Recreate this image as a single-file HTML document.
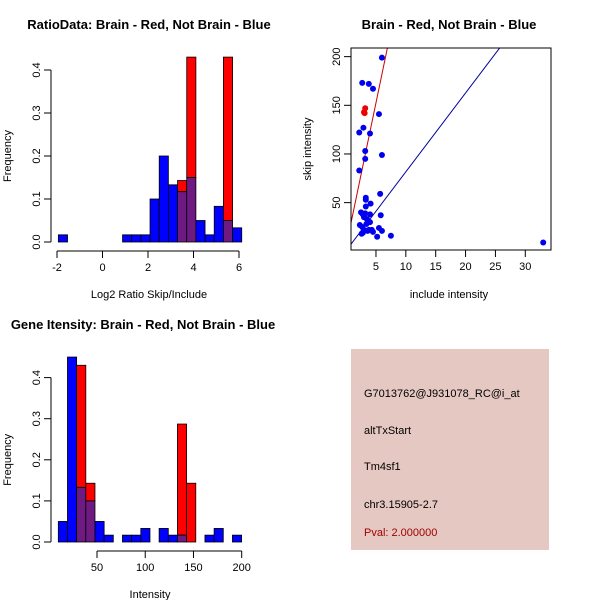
<!DOCTYPE html>
<html><head><meta charset="utf-8"><style>
html,body{margin:0;padding:0;background:#fff}
svg{display:block;font-family:"Liberation Sans",sans-serif}
</style></head><body>
<svg id="svg" width="600" height="600" viewBox="0 0 600 600" xmlns="http://www.w3.org/2000/svg">
<rect x="0" y="0" width="600" height="600" fill="#fff"/>
<g>
<rect x="351" y="349" width="198" height="201" fill="#e5c8c1"/>
<text x="364" y="397" font-size="11" fill="#000">G7013762@J931078_RC@i_at</text>
<text x="364" y="434" font-size="11" fill="#000">altTxStart</text>
<text x="364" y="470" font-size="11" fill="#000">Tm4sf1</text>
<text x="364" y="508" font-size="11" fill="#000">chr3.15905-2.7</text>
<text x="364" y="536" font-size="11" fill="#a00000">Pval: 2.000000</text>
</g>
</svg>
<script>
// ---- Histogram 1: log2 ratio ----
const h1Start = -1.94, h1Width = 0.403;
const h1Blue = [0.0167,0,0,0,0,0,0,0.0167,0.0167,0.0167,0.1,0.2,0.133,0.117,0.15,0.05,0.0167,0.083,0.05,0.033];
const h1Red  = [0,0,0,0,0,0,0,0,0,0,0,0,0,0.143,0.43,0,0,0,0.43,0];
const h1XTicks = [-2,0,2,4,6];
const h1YTicks = [0,0.1,0.2,0.3,0.4];
// ---- Histogram 2: intensity ----
const h2Start = 9.9, h2Width = 9.5;
const h2Blue = [0.05,0.45,0.133,0.1,0.05,0.0167,0,0.0167,0.0167,0.033,0,0.033,0.0167,0.0167,0,0,0.0167,0.033,0,0.0167];
const h2Red  = [0,0,0.43,0.143,0,0,0,0,0,0,0,0,0,0.287,0.143,0,0,0,0,0];
const h2XTicks = [50,100,150,200];
const h2YTicks = [0,0.1,0.2,0.3,0.4];
// ---- Scatter ----
const blueX = [6.0,2.7,3.8,4.5,5.5,2.9,2.2,4.0,3.2,3.2,6.0,2.2,5.7,3.3,3.3,4.1,3.3,2.5,2.8,3.2,4.0,5.8,3.0,3.5,4.0,2.3,2.7,3.4,3.0,3.8,4.3,4.5,5.5,6.0,5.2,7.5,2.6,2.8,3.6,33];
const blueY = [199,173,172,167,141,127,122,121,103,95,99,83,59,55,53,49,46,40,38,39,38,37,35,33,30,27,25,28,22,22,22,20,24,21,15,16,18,19,21,9];
const redX = [3.2,3.1,3.0];
const redY = [147,142,143];
const redLine = [5, 29.5];   // intercept, slope
const blueLine = [0.66, 8.1];
const scXTicks = [5,10,15,20,25,30];
const scYTicks = [50,100,150,200];

const NS = "http://www.w3.org/2000/svg";
const svg = document.getElementById('svg');
function mk(tag, attrs, parent){
  const e = document.createElementNS(NS, tag);
  for (const k in attrs) e.setAttribute(k, attrs[k]);
  (parent||svg).appendChild(e);
  return e;
}
function txt(x,y,s,size,opts,parent){
  const t = mk('text', Object.assign({x:x,y:y,'font-size':size,'text-anchor':'middle',fill:'#000'},opts||{}), parent);
  t.textContent = s;
  return t;
}

function histogram(name, start, width, blue, red, xTicks, yTicks, xs, ys, axisY, title, titleX, titleY, xlabel, xlabelX, xlabelY){
  const g = mk('g', {});
  
  
  const y0 = ys(0);
  for (let i=0;i<blue.length;i++){
    const x1 = xs(start+i*width), x2 = xs(start+(i+1)*width);
    const b = blue[i], r = red[i];
    const ov = Math.min(b,r);
    if (b>ov){
      const e = mk('rect',{x:x1,y:ys(b),width:x2-x1,height:ys(ov)-ys(b),fill:'#0000ff',stroke:'#000','stroke-width':0.8},g);
      
      
    }
    if (r>ov){
      const e = mk('rect',{x:x1,y:ys(r),width:x2-x1,height:ys(ov)-ys(r),fill:'#ff0000',stroke:'#000','stroke-width':0.8},g);
      
      
    }
    if (ov>0){
      const e = mk('rect',{x:x1,y:ys(ov),width:x2-x1,height:y0-ys(ov),fill:'#6e1a82',stroke:'#000','stroke-width':0.8},g);
      
      
    }
  }
  const ya = mk('g',{},g);
  
  
  mk('line',{x1:51,x2:51,y1:ys(yTicks[0]),y2:ys(yTicks[yTicks.length-1]),stroke:'#000'},ya);
  yTicks.forEach(v=>{
    mk('line',{x1:44,x2:51,y1:ys(v),y2:ys(v),stroke:'#000'},ya);
    txt(36,ys(v)+4,v.toFixed(1),11,{transform:`rotate(-90 36 ${ys(v)})`},ya);
  });
  const xa = mk('g',{},g);
  
  
  mk('line',{x1:xs(xTicks[0]),x2:xs(xTicks[xTicks.length-1]),y1:axisY,y2:axisY,stroke:'#000'},xa);
  xTicks.forEach(v=>{
    mk('line',{x1:xs(v),x2:xs(v),y1:axisY,y2:axisY+7,stroke:'#000'},xa);
    txt(xs(v),axisY+20,String(v),11,{},xa);
  });
  const t = txt(titleX, titleY, title, 13, {'font-weight':'bold'}, g);
  
  
  const xl = txt(xlabelX, xlabelY, xlabel, 11, {}, g);
  
  
  const yl = txt(11, ys(0.2), 'Frequency', 11, {transform:`rotate(-90 11 ${ys(0.2)})`}, g);
  
  
  return g;
}

const h1xs = v => 57 + (v+2)*22.75;
const h1ys = v => 242 - v*430;
histogram('ratio-histogram', h1Start, h1Width, h1Blue, h1Red, h1XTicks, h1YTicks, h1xs, h1ys, 251,
  'RatioData: Brain - Red, Not Brain - Blue', 149, 29, 'Log2 Ratio Skip/Include', 149, 298);
const h2xs = v => 97 + (v-50)*0.9647;
const h2ys = v => 542 - v*411;
histogram('intensity-histogram', h2Start, h2Width, h2Blue, h2Red, h2XTicks, h2YTicks, h2xs, h2ys, 551,
  'Gene Itensity: Brain - Red, Not Brain - Blue', 143, 329, 'Intensity', 150, 598);

// scatter
const sx = v => 346.1 + v*5.973;
const sy = v => 251.3 - v*0.9733;
const sg = mk('g',{});


const cp = mk('clipPath',{id:'clipsc'},sg);
mk('rect',{x:351,y:48,width:200,height:202},cp);
function fitLine(p, color, nm){
  const xa = 0, xb = 40;
  const l = mk('line',{x1:sx(xa),y1:sy(p[0]+p[1]*xa),x2:sx(xb),y2:sy(p[0]+p[1]*xb),stroke:color,'stroke-width':1,'clip-path':'url(#clipsc)'},sg);
  
  
}
fitLine(redLine,'#cc0000','red-fit-line');
fitLine(blueLine,'#000099','blue-fit-line');
for (let i=0;i<blueX.length;i++){
  const c = mk('circle',{cx:sx(blueX[i]),cy:sy(blueY[i]),r:3,fill:'#0000ee'},sg);
  
  
}
for (let i=0;i<redX.length;i++){
  const c = mk('circle',{cx:sx(redX[i]),cy:sy(redY[i]),r:3,fill:'#ee0000'},sg);
  
  
}
const box = mk('rect',{x:351,y:48,width:200,height:202,fill:'none',stroke:'#000'},sg);


const sxa = mk('g',{},sg);


scXTicks.forEach(v=>{
  mk('line',{x1:sx(v),x2:sx(v),y1:250,y2:257,stroke:'#000'},sxa);
  txt(sx(v),270,String(v),11,{},sxa);
});
const sya = mk('g',{},sg);


scYTicks.forEach(v=>{
  mk('line',{x1:344,x2:351,y1:sy(v),y2:sy(v),stroke:'#000'},sya);
  txt(336,sy(v)+4,String(v),11,{transform:`rotate(-90 336 ${sy(v)})`},sya);
});
const st = txt(449,29,'Brain - Red, Not Brain - Blue',13,{'font-weight':'bold'},sg);


const sxl = txt(449,298,'include intensity',11,{},sg);


const syl = txt(311,149,'skip intensity',11,{transform:'rotate(-90 311 149)'},sg);


</script>
</body></html>
